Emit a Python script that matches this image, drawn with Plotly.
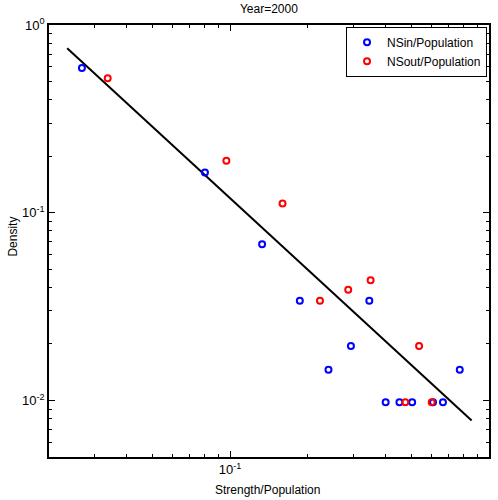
import plotly.graph_objects as go

# NSin/Population (blue)
nsin_x = [0.0268, 0.080, 0.133, 0.186, 0.345, 0.293, 0.240, 0.771, 0.399, 0.451, 0.505, 0.608, 0.664]
nsin_y = [0.590, 0.164, 0.0679, 0.034, 0.034, 0.0195, 0.0146, 0.0146, 0.0098, 0.0098, 0.0098, 0.0098, 0.0098]

# NSout/Population (red)
nsout_x = [0.0337, 0.0968, 0.1595, 0.2225, 0.286, 0.349, 0.537, 0.475, 0.601]
nsout_y = [0.520, 0.189, 0.112, 0.034, 0.0389, 0.0437, 0.0195, 0.0098, 0.0098]

# fitted power-law line endpoints
fit_x = [0.0235, 0.857]
fit_y = [0.751, 0.00782]

x_tickvals = [0.1, 1]
x_ticktext = ["10<sup>-1</sup>", "10<sup>0</sup>"]
y_tickvals = [0.01, 0.1, 1]
y_ticktext = ["10<sup>-2</sup>", "10<sup>-1</sup>", "10<sup>0</sup>"]

FONT = "Liberation Sans, Arial, Helvetica, sans-serif"

fig = go.Figure()
fig.add_trace(go.Scatter(x=fit_x, y=fit_y, mode="lines",
                         line=dict(color="black", width=2), showlegend=False))
fig.add_trace(go.Scatter(x=nsin_x, y=nsin_y, mode="markers", name="NSin/Population",
                         marker=dict(symbol="circle-open", size=6, color="blue",
                                     line=dict(width=2, color="blue"))))
fig.add_trace(go.Scatter(x=nsout_x, y=nsout_y, mode="markers", name="NSout/Population",
                         marker=dict(symbol="circle-open", size=6, color="red",
                                     line=dict(width=2, color="red"))))

axis_common = dict(
    showgrid=False, zeroline=False, showline=True, linecolor="black", linewidth=1.5,
    mirror="allticks", ticks="inside", ticklen=6, tickwidth=1, tickcolor="black",
    automargin=False,
    tickfont=dict(family=FONT, size=13, color="black"),
    minor=dict(ticks="inside", ticklen=3, tickwidth=1, tickcolor="black", dtick="D1", showgrid=False),
)

fig.update_xaxes(type="log", range=[-1.699, 0], tickvals=x_tickvals, ticktext=x_ticktext, **axis_common)
fig.update_yaxes(type="log", range=[-2.301, 0], tickvals=y_tickvals, ticktext=y_ticktext, **axis_common)

fig.update_layout(
    width=498, height=500,
    margin=dict(l=49, r=9, t=25, b=43, autoexpand=False),
    paper_bgcolor="white", plot_bgcolor="white",
    title=dict(text="Year=2000", x=0.54, xanchor="center", y=0.99, yanchor="top",
               font=dict(family=FONT, size=12, color="black")),
    font=dict(family=FONT, size=12, color="black"),
    legend=dict(x=0.9955, y=0.996, xanchor="right", yanchor="top",
                bordercolor="black", borderwidth=1, bgcolor="white",
                font=dict(family=FONT, size=12, color="black"),
                itemwidth=30, tracegroupgap=0),
    annotations=[
        dict(text="Strength/Population", xref="paper", yref="paper", x=0.497, y=-0.077,
             xanchor="center", yanchor="middle", showarrow=False,
             font=dict(family=FONT, size=12, color="black")),
        dict(text="Density", xref="paper", yref="paper", x=-0.082, y=0.51,
             xanchor="center", yanchor="middle", showarrow=False, textangle=-90,
             font=dict(family=FONT, size=12, color="black")),
    ],
)

fig.write_html("out.html", config={"displayModeBar": False},
               post_script="document.body.style.margin='0';document.body.style.overflow='hidden';")
